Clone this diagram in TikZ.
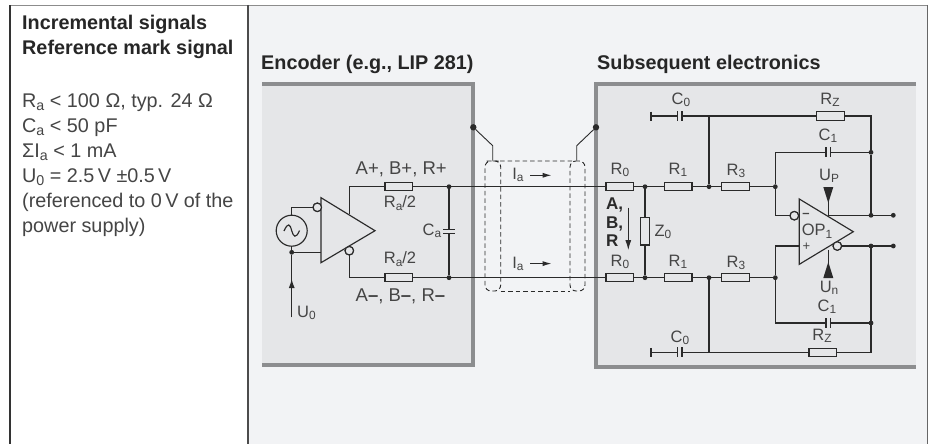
\documentclass[tikz,border=0pt]{standalone}
\usepackage{fontspec}
\usepackage{graphicx}
\setmainfont{Liberation Sans}
\usetikzlibrary{arrows.meta}
\definecolor{panel}{HTML}{F2F3F5}
\definecolor{boxfill}{HTML}{E5E6E8}
\definecolor{boxedge}{HTML}{8C8D8F}
\definecolor{ink}{HTML}{2A2A2A}
\definecolor{txt}{HTML}{454545}
\newcommand{\sbs}[1]{\raisebox{-.28ex}{\scalebox{.72}{#1}}}
\tikzset{
  wire/.style={draw=ink,line width=1.15pt},
  res/.style={draw=ink,line width=1.15pt,fill=boxfill,minimum width=27.5pt,minimum height=8.4pt,inner sep=0pt,outer sep=0pt},
  vres/.style={res,minimum width=8.4pt,minimum height=27.5pt},
  bub/.style={circle,draw=ink,line width=1.15pt,fill=boxfill,minimum size=8.5pt,inner sep=0pt,outer sep=0pt},
  jun/.style={circle,fill=ink,minimum size=4.8pt,inner sep=0pt,outer sep=0pt},
  bigjun/.style={circle,fill=ink,minimum size=6.4pt,inner sep=0pt,outer sep=0pt},
  lab/.style={inner sep=0pt,text=txt,font=\fontsize{16.5}{16.5}\selectfont},
  biglab/.style={lab,font=\fontsize{18.5}{18.5}\selectfont},
  body/.style={anchor=north west,align=left,inner sep=0pt,text=txt,font=\fontsize{19.8}{25}\selectfont},
  head/.style={anchor=west,inner sep=0pt,text=black!85,font=\fontsize{19.8}{24.5}\selectfont\bfseries},
  plate/.style={draw=ink,line width=1.5pt},
  ptr/.style={draw=ink,line width=1.15pt,-{Latex[length=9pt,width=6pt]}},
  shield/.style={draw=ink,line width=.9pt,dash pattern=on 4.5pt off 3pt,rounded corners=6pt},
}
\begin{document}
\begin{tikzpicture}[x=1pt,y=-1pt]
\useasboundingbox (0,0) rectangle (934,444);
% panels
\fill[white] (0,0) rectangle (934,444);
\fill[panel] (248,5) rectangle (927,444);
\draw[draw=black!45,line width=.9pt] (10,5) -- (928,5);
\draw[draw=black!80,line width=1.2pt] (10,444) -- (10,5);
\draw[draw=black!60,line width=1.4pt] (927.5,5) -- (927.5,444);
\draw[draw=black!70,line width=1.1pt] (248,5) -- (248,444);
% boxes
\fill[boxedge] (262,82) rectangle (475,367);
\fill[boxfill] (262,86) rectangle (471,363);
\fill[boxedge] (594,82) rectangle (916,369);
\fill[boxfill] (598,86) rectangle (916,365);
% texts left
\node[head] (t1) at (22,24) {Incremental signals};
\node[head] (t2) at (22,49) {Reference mark signal};
\node[body] (b1) at (22,93.5) {R\sbs{a} < 100 Ω, typ. 24 Ω\\C\sbs{a} < 50 pF\\ΣI\sbs{a} < 1 mA\\U\sbs{0} = 2.5\,V ±0.5\,V\\(referenced to 0\,V of the\\power supply)};
\node[head] (t3) at (261,64) {Encoder (e.g., LIP 281)};
\node[head] (t4) at (597,64) {Subsequent electronics};
% encoder coordinates
\coordinate (wta) at (349.3,186.7);
\coordinate (wtb) at (349.3,214.3);
\coordinate (wba) at (349.3,277.7);
\node[bub] (enP) at (317.3,207.3) {};
\node[bub] (enN) at (349.3,250.7) {};
\node[circle,draw=ink,line width=1.15pt,minimum size=31pt,inner sep=0pt,outer sep=0pt] (src) at (291.7,230.7) {};
\draw[draw=ink,line width=1.15pt] (284,231) .. controls (288,222) and (290,224) .. (291.7,230.7) .. controls (293.4,237) and (296,239) .. (299.5,230.5);
\coordinate (srcTop) at (291.7,207.3);
\node[jun] (srcJ) at (291.7,252.3) {};
\coordinate (u0) at (291.7,317.3);
\coordinate (tinL) at (321,252.3);
\draw[wire] (src.north) -- (srcTop) -- (enP.west);
\draw[wire] (src.south) -- (srcJ) -- (tinL);
\draw[ptr] (u0) -- (291.7,279);
\draw[wire] (291.7,285) -- (srcJ);
\draw[wire,fill=boxfill,line join=miter] (321,197.7) -- (375,230.7) -- (321,262.7) -- cycle;
\node[bub] at (enN) {};
\node[bub] at (enP) {};
\node[res] (Ra1) at (398.8,186.7) {};
\node[res] (Ra2) at (398.8,277.7) {};
\node[jun] (jt) at (449,186.7) {};
\node[jun] (jb) at (449,277.7) {};
\coordinate (capT) at (449,229.3);
\coordinate (capB) at (449,233.3);
\node[res] (R0a) at (619.8,186.7) {};
\node[res] (R0b) at (619.8,277.7) {};
\draw[wire] (wtb) -- (wta) -- (Ra1.west);
\draw[wire] (enN.south) -- (wba) -- (Ra2.west);
\draw[wire] (Ra1.east) -- (jt) -- (R0a.west);
\draw[wire] (Ra2.east) -- (jb) -- (R0b.west);
\draw[wire] (jt) -- (capT);
\draw[wire] (jb) -- (capB);
\draw[plate] (443.3,229.3) -- (455,229.3);
\draw[plate] (443.3,233.3) -- (455,233.3);
% encoder labels
\node[biglab,anchor=west] (l1) at (355.5,169) {A+, B+, R+};
\node[lab] (l2) at (400,203) {R\sbs{a}/2};
\node[lab] (l3) at (400,259) {R\sbs{a}/2};
\node[biglab,anchor=west] (l4) at (355.5,296) {A{\bfseries –}, B{\bfseries –}, R{\bfseries –}};
\node[lab] (l5) at (432,231) {C\sbs{a}};
\node[lab,anchor=west] (l6) at (297,313) {U\sbs{0}};
% shield
\node[bigjun] (gl) at (473.3,127.3) {};
\node[bigjun] (gr) at (596,127.3) {};
\coordinate (gla) at (492.7,145.7);
\coordinate (glb) at (492.7,160.5);
\coordinate (gra) at (576.7,145.7);
\coordinate (grb) at (576.7,160.5);
\draw[wire,line width=.9pt] (gl) -- (gla) -- (glb);
\draw[wire,line width=.9pt] (gr) -- (gra) -- (grb);
\draw[shield] (492.7,161) -- (485,161) -- (485,291) -- (500.7,291) -- (500.7,161) -- cycle;
\draw[shield] (492.7,161) -- (585,161) -- (585,291) -- (570,291) -- (570,161) -- (576,161);
\draw[shield,rounded corners=0pt] (500.7,291) -- (570,291);
\node[lab] (i1) at (518,175) {I\sbs{a}};
\node[lab] (i2) at (518,264) {I\sbs{a}};
\coordinate (ia1) at (530,175.3);
\coordinate (ia1e) at (551.7,175.3);
\coordinate (ia2) at (530,263.6);
\coordinate (ia2e) at (551.7,263.6);
\draw[ptr,-{Latex[length=9pt,width=5pt]}] (ia1) -- (ia1e);
\draw[ptr,-{Latex[length=9pt,width=5pt]}] (ia2) -- (ia2e);
% subsequent electronics
\node[jun] (j1t) at (645,186.7) {};
\node[jun] (j1b) at (645,277.7) {};
\node[vres] (Z0) at (645,231.2) {};
\node[res] (R1a) at (678.3,186.7) {};
\node[res] (R1b) at (678.3,277.7) {};
\node[jun] (j2t) at (709,186.7) {};
\node[jun] (j2b) at (709,277.7) {};
\node[res] (R3a) at (735.5,186.7) {};
\node[res] (R3b) at (735.5,277.7) {};
\node[jun] (j3t) at (775.3,186.7) {};
\node[jun] (j3b) at (775.3,277.7) {};
\draw[wire] (R0a.east) -- (j1t) -- (R1a.west) (R1a.east) -- (j2t) -- (R3a.west) (R3a.east) -- (j3t);
\draw[wire] (R0b.east) -- (j1b) -- (R1b.west) (R1b.east) -- (j2b) -- (R3b.west) (R3b.east) -- (j3b);
\draw[wire] (j1t) -- (Z0.north) (Z0.south) -- (j1b);
% C0 top
\coordinate (c0t) at (651,116);
\coordinate (c0tm) at (709,116);
\coordinate (c0tc) at (871,116);
\node[res] (Rzt) at (830.5,116) {};
\coordinate (c1tl) at (775.3,152.3);
\node[jun] (j4t) at (871,152.3) {};
\node[jun] (j5t) at (871,215.3) {};
\node[jun] (o1) at (893.3,215.3) {};
\node[jun] (o2) at (893.3,246) {};
\node[jun] (j5b) at (871,246) {};
\node[jun] (j4b) at (871,323) {};
\coordinate (c1bl) at (775.3,323);
\coordinate (c0b) at (651,352.3);
\coordinate (c0bm) at (709,352.3);
\coordinate (c0bc) at (871,352.3);
\node[res] (Rzb) at (822.8,352.3) {};
% wires around
\draw[wire] (c0t) -- (677.3,116) (682,116) -- (c0tm) -- (Rzt.west) (Rzt.east) -- (c0tc) -- (j4t) -- (j5t);
\draw[wire] (c0tm) -- (j2t);
\draw[wire] (j3t) -- (c1tl) -- (826,152.3) (830.7,152.3) -- (j4t);
\draw[wire] (c0b) -- (677.3,352.3) (682,352.3) -- (c0bm) -- (Rzb.west) (Rzb.east) -- (c0bc) -- (j4b) -- (j5b);
\draw[wire] (c0bm) -- (j2b);
\draw[wire] (j3b) -- (c1bl) -- (826,323) (830.7,323) -- (j4b);
\draw[plate,line width=1.1pt] (651,111.5) -- (651,121);
\draw[plate,line width=1.1pt] (651,347.8) -- (651,357.3);
\foreach \cx/\cy/\ch in {677.3/116/5,682/116/5,677.3/352.3/5,682/352.3/5,826/152.3/5,830.7/152.3/5,826/323/5,830.7/323/5}{
  \draw[plate] (\cx,\cy-\ch) -- (\cx,\cy+\ch);
}
% op amp
\node[bub] (opN) at (794.3,215.7) {};
\node[bub] (opQ) at (837.3,246) {};
\coordinate (vup) at (828.3,186.7);
\coordinate (vun) at (828.3,278.3);
\coordinate (opOut) at (828.3,215.3);
\coordinate (opOutB) at (828.3,250);
\draw[wire] (j3t) -- (775.3,215.7) -- (opN.west);
\draw[wire] (j3b) -- (775.3,246) -- (799.3,246);
\draw[wire] (opOut) -- (j5t) -- (o1);
\draw[wire] (opQ.east) -- (j5b) -- (o2);
\draw[wire,fill=boxfill,line join=miter] (799.3,199) -- (853.3,231.7) -- (799.3,264.3) -- cycle;
\node[bub] at (opN) {};
\node[bub] at (opQ) {};
\fill[ink] (823.3,187) -- (833.3,187) -- (828.3,203) -- cycle;
\fill[ink] (823.3,278) -- (833.3,278) -- (828.3,262) -- cycle;
\draw[wire] (828.3,200) -- (opOut);
\draw[wire] (828.3,264) -- (opOutB);
\node[lab,font=\fontsize{13}{13}\selectfont\bfseries] (lm) at (806,215) {–};
\node[lab,font=\fontsize{13}{13}\selectfont] (lp) at (806.5,246.5) {+};
\node[lab,font=\fontsize{16.5}{16.5}\selectfont] (lop) at (817,231.2) {OP\sbs{1}};
\node[lab] (up) at (829,176) {U\sbs{P}};
\node[lab] (un) at (829,288) {U\sbs{n}};
\node[lab] (c0a) at (681,100) {C\sbs{0}};
\node[lab] (rza) at (830,100) {R\sbs{Z}};
\node[lab] (c1a) at (828,136) {C\sbs{1}};
\node[lab] (r0a) at (620,170) {R\sbs{0}};
\node[lab] (r1a) at (678,170) {R\sbs{1}};
\node[lab] (r3a) at (736,171) {R\sbs{3}};
\node[lab] (r0b) at (620,262) {R\sbs{0}};
\node[lab] (r1b) at (678,262) {R\sbs{1}};
\node[lab] (r3b) at (736,263) {R\sbs{3}};
\node[lab] (c1b) at (827,307) {C\sbs{1}};
\node[lab] (rzb) at (822,336) {R\sbs{Z}};
\node[lab] (c0c) at (680,338) {C\sbs{0}};
\node[lab] (z0) at (663,232) {Z\sbs{0}};
\node[anchor=north west,align=left,inner sep=0pt,text=ink,font=\fontsize{17}{18.3}\selectfont\bfseries] (abr) at (606,198) {A,\\B,\\R};
\coordinate (da) at (628.3,207.7);
\coordinate (db) at (628.3,250);
\draw[ptr,-{Latex[length=10pt,width=6pt]},line width=.9pt] (da) -- (db);
\end{tikzpicture}
\end{document}
